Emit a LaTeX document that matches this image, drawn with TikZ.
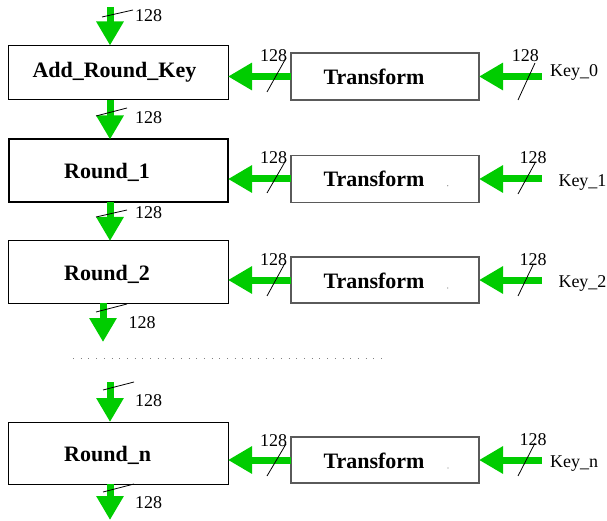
\documentclass[tikz,border=0pt]{standalone}
\usepackage{fontspec}
\setmainfont{Liberation Serif}
\usetikzlibrary{arrows.meta}
\definecolor{flowgreen}{RGB}{0,204,0}
\definecolor{tgray}{RGB}{90,90,90}
\begin{document}
\begin{tikzpicture}[x=1pt,y=-1pt,
  rbox/.style={draw=black,line width=1pt,anchor=north west,inner sep=0pt,outer sep=0pt,minimum width=219.5pt},
  tbox/.style={draw=tgray,line width=1.2pt,anchor=north west,inner sep=0pt,outer sep=0pt,minimum width=188pt},
  flow/.style={draw=flowgreen,line width=7pt,-{Triangle[width=26pt,length=24pt]}},
  slash/.style={draw=black,line width=0.8pt},
  bigtxt/.style={font=\fontsize{22}{24}\selectfont\bfseries,inner sep=0pt,anchor=base west},
  num/.style={font=\fontsize{18}{20}\selectfont,inner sep=0pt,anchor=base west},
  dotline/.style={draw=gray,line width=1pt,dash pattern=on 1pt off 6.7pt},
  speck/.style={fill=gray,draw=none}
]
\useasboundingbox (0,0) rectangle (607,521);
% boxes
\node[rbox,minimum height=54.5pt] (ark) at (8.5,45.5) {};
\node[rbox,minimum height=63pt,line width=2pt] (r1) at (8.5,139.5) {};
\node[rbox,minimum height=62pt] (r2) at (8.5,241) {};
\node[rbox,minimum height=62pt] (rn) at (8.5,422) {};
\node[tbox,minimum height=47pt] (t0) at (291,53) {};
\node[tbox,minimum height=47pt] (t1) at (291,155.5) {};
\node[tbox,minimum height=46pt] (t2) at (291,257) {};
\node[tbox,minimum height=46pt] (tn) at (291,437) {};
% box texts
\node[bigtxt] (arkt) at (32.3,77.5) {Add\_Round\_Key};
\node[bigtxt] (r1t) at (64,179) {Round\_1};
\node[bigtxt] (r2t) at (64,280.5) {Round\_2};
\node[bigtxt] (rnt) at (64,461) {Round\_n};
\node[bigtxt] (t0t) at (323.3,85) {Transform};
\node[bigtxt] (t1t) at (323.3,186.7) {Transform};
\node[bigtxt] (t2t) at (323.3,288.3) {Transform};
\node[bigtxt] (tnt) at (323.3,468.3) {Transform};
% specks
\fill[speck] (447.7,185.7) circle (0.6);
\fill[speck] (447.7,288) circle (0.6);
\fill[speck] (448,468) circle (0.6);
% key labels
\node[num] (k0t) at (550,76.7) {Key\_0};
\node[num] (k1t) at (558.3,186.7) {Key\_1};
\node[num] (k2t) at (558.3,287.3) {Key\_2};
\node[num] (knt) at (550,467.3) {Key\_n};
% coordinates
\coordinate (k0) at (542,0);
\coordinate (a0) at (110,7);
\coordinate (e3) at (103,342);
\coordinate (s4) at (110,382);
\coordinate (e5) at (110,520);
% horizontal arrows
\draw[flow] (t0.west) -- (t0.west -| ark.east);
\draw[flow] (t1.west) -- (t1.west -| r1.east);
\draw[flow] (t2.west) -- (t2.west -| r2.east);
\draw[flow] (tn.west) -- (tn.west -| rn.east);
\draw[flow] (t0.east -| k0) -- (t0.east);
\draw[flow] (t1.east -| k0) -- (t1.east);
\draw[flow] (t2.east -| k0) -- (t2.east);
\draw[flow] (tn.east -| k0) -- (tn.east);
% vertical arrows
\draw[flow] (a0) -- (a0 |- ark.north);
\draw[flow] (ark.south -| a0) -- (r1.north -| a0);
\draw[flow] (r1.south -| a0) -- (r2.north -| a0);
\draw[flow] (r2.south -| e3) -- (e3);
\draw[flow] (s4) -- (s4 |- rn.north);
\draw[flow] (rn.south -| e5) -- (e5);
% slashes
\draw[slash] (102,17) -- (133,10);
\draw[slash] (96,116) -- (127,108);
\draw[slash] (96,217) -- (127,210);
\draw[slash] (96,312) -- (127,304);
\draw[slash] (103,390) -- (134,382);
\draw[slash] (103,492) -- (134,484);
\draw[slash] (267,92) -- (286,58);
\draw[slash] (267,193) -- (286,160);
\draw[slash] (267,296) -- (285,263);
\draw[slash] (267,476) -- (286,444);
\draw[slash] (518,100) -- (535,63);
\draw[slash] (518,194) -- (535,163);
\draw[slash] (518,296) -- (533,265);
\draw[slash] (518,476) -- (535,443);
% 128 labels
\node[num] (n0) at (135,21.7) {128};
\node[num] (n1) at (135,123.3) {128};
\node[num] (n2) at (135,218.3) {128};
\node[num] (n3) at (128.3,328.3) {128};
\node[num] (n4) at (135,406.7) {128};
\node[num] (n5) at (135,508.3) {128};
\node[num] (h0) at (260,61.7) {128};
\node[num] (h1) at (260,163.3) {128};
\node[num] (h2) at (260,265.7) {128};
\node[num] (hn) at (260,446) {128};
\node[num] (g0) at (511.7,61.7) {128};
\node[num] (g1) at (519.3,163.3) {128};
\node[num] (g2) at (519.3,265.7) {128};
\node[num] (gn) at (519.3,445.7) {128};
% dotted separator
\draw[dotline] (73,358) -- (382,358);
\end{tikzpicture}
\end{document}
